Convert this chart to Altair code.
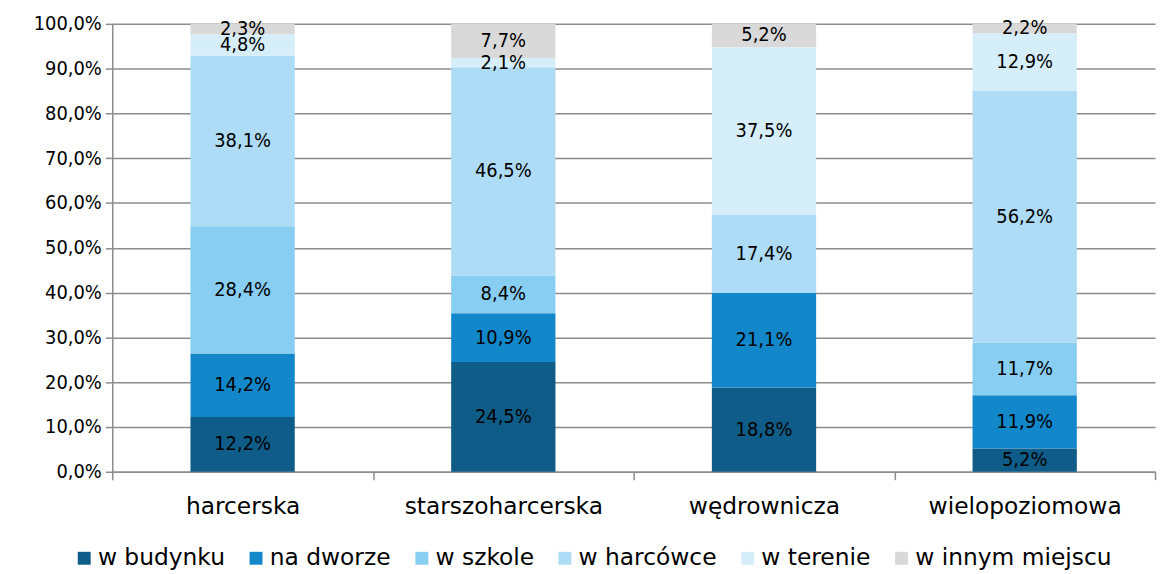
import altair as alt
import pandas as pd

groups = ["harcerska", "starszoharcerska", "wędrownicza", "wielopoziomowa"]
places = ["w budynku", "na dworze", "w szkole", "w harcówce", "w terenie", "w innym miejscu"]
colors = ["#0E5C87", "#1287C9", "#88CDF2", "#AEDBF5", "#D6EEFA", "#D9D9D9"]

v_budynku = [12.2, 24.5, 18.8, 5.2]
v_dworze = [14.2, 10.9, 21.1, 11.9]
v_szkole = [28.4, 8.4, 0.0, 11.7]
v_harcowce = [38.1, 46.5, 17.4, 56.2]
v_terenie = [4.8, 2.1, 37.5, 12.9]
v_innym = [2.3, 7.7, 5.2, 2.2]

series = [v_budynku, v_dworze, v_szkole, v_harcowce, v_terenie, v_innym]
rows = []
for pi, (p, vals) in enumerate(zip(places, series)):
    for g, v in zip(groups, vals):
        if v > 0:
            rows.append({"group": g, "place": p, "value": v, "ord": pi})
df = pd.DataFrame(rows)

FONT = "DejaVu Sans Condensed, DejaVu Sans, sans-serif"
FONT2 = "DejaVu Sans, sans-serif"

base = alt.Chart(df).transform_stack(
    stack="value", groupby=["group"], as_=["v0", "v1"], sort=[alt.SortField("ord", order="ascending")]
).transform_calculate(
    mid="(datum.v0 + datum.v1) / 2",
    lbl="replace(format(datum.value, '.1f'), '.', ',') + '%'",
)

x = alt.X("group:N", sort=groups, title=None,
          scale=alt.Scale(paddingInner=0, paddingOuter=0),
          axis=alt.Axis(labelAngle=0, tickBand="extent", labelFontSize=23.5, labelFont=FONT2,
                        labelLimit=0,
                        labelColor="#000000", domainColor="#8C8C8C", tickColor="#8C8C8C",
                        domainWidth=1.5, tickWidth=1.5, tickSize=8, labelPadding=15, grid=False))

bars = base.mark_bar(width=alt.RelativeBandSize(0.4)).encode(
    x=x,
    y=alt.Y("v0:Q", scale=alt.Scale(domain=[0, 100], clamp=True), title=None,
            axis=alt.Axis(values=list(range(0, 101, 10)),
                          labelExpr="replace(format(datum.value, '.1f'), '.', ',') + '%'",
                          labelFontSize=20, labelFont=FONT, labelColor="#000000",
                          domainColor="#8C8C8C", tickColor="#8C8C8C", domainWidth=1.5,
                          tickWidth=1.5, tickSize=7, labelPadding=4,
                          gridColor="#8C8C8C", gridWidth=1.5)),
    y2="v1:Q",
    color=alt.Color("place:N", sort=places,
                    scale=alt.Scale(domain=places, range=colors),
                    legend=alt.Legend(orient="none", legendX=-40, legendY=526,
                                      title=None, direction="horizontal",
                                      symbolType="square", symbolSize=169, symbolStrokeWidth=0,
                                      labelFontSize=23.5, labelFont=FONT2, labelColor="#000000",
                                      labelLimit=0,
                                      labelOffset=2, columnPadding=19, symbolOffset=0)),
    order=alt.Order("ord:Q"),
)

text = base.mark_text(fontSize=20, font=FONT, color="#000000", baseline="middle").encode(
    x=alt.X("group:N", sort=groups),
    y=alt.Y("mid:Q"),
    text="lbl:N",
)

chart = alt.layer(bars, text).properties(
    width=1050, height=451,
    padding={"left": 105, "top": 14, "right": 4, "bottom": 100},
    autosize=alt.AutoSizeParams(type="none"),
).configure_view(stroke=None)

chart.save("out.html", embed_options={"renderer": "svg", "actions": False})
